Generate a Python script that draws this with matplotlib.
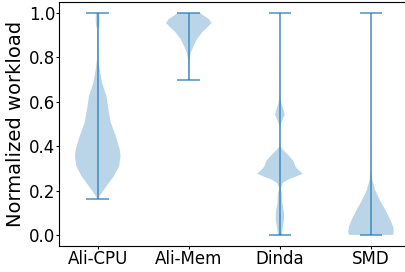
import numpy as np
import matplotlib
matplotlib.use('Agg')
import matplotlib.pyplot as plt

# categories on the x axis
categories = ['Ali-CPU', 'Ali-Mem', 'Dinda', 'SMD']

# density profile of each violin (workload value -> relative width)
cpu_coords = [0.163, 0.181, 0.219, 0.264, 0.309, 0.354, 0.385, 0.445, 0.507, 0.566, 0.626, 0.686, 0.746, 0.79, 0.86, 0.93, 0.94, 0.97, 0.995, 1.0]
cpu_vals = [0.3, 2.7, 8.7, 16.0, 21.3, 22.7, 22.0, 18.0, 13.0, 10.7, 8.7, 4.3, 2.0, 0.8, 0.6, 0.7, 1.5, 2.0, 1.8, 1.2]

mem_coords = [0.698, 0.75, 0.79, 0.822, 0.852, 0.882, 0.913, 0.935, 0.955, 0.973, 0.99, 1.0]
mem_vals = [0.4, 0.5, 0.7, 2.0, 4.7, 8.0, 13.0, 18.0, 22.3, 19.7, 14.0, 11.3]

dinda_coords = [0.0, 0.032, 0.068, 0.1, 0.145, 0.19, 0.211, 0.234, 0.249, 0.264, 0.276, 0.294, 0.309, 0.332, 0.354, 0.385, 0.40, 0.47, 0.497, 0.52, 0.543, 0.566, 0.596, 0.62, 0.7, 0.85, 1.0]
dinda_vals = [2.0, 2.7, 4.0, 4.0, 2.3, 1.8, 0.7, 2.7, 7.7, 16.0, 22.0, 17.7, 15.0, 13.3, 9.3, 2.7, 0.4, 0.3, 0.7, 2.7, 4.7, 3.3, 1.3, 0.5, 0.3, 0.2, 0.2]

smd_coords = [0.0, 0.015, 0.038, 0.068, 0.113, 0.158, 0.204, 0.249, 0.279, 0.35, 0.5, 0.7, 1.0]
smd_vals = [22.0, 22.7, 22.0, 19.3, 14.3, 8.7, 4.0, 1.3, 0.5, 0.25, 0.15, 0.1, 0.1]

all_coords = [cpu_coords, mem_coords, dinda_coords, smd_coords]
all_vals = [cpu_vals, mem_vals, dinda_vals, smd_vals]

# statistics in the form that ax.violin expects
vpstats = []
for coords, vals in zip(all_coords, all_vals):
    vpstats.append({
        'coords': np.array(coords),
        'vals': np.array(vals),
        'mean': np.mean(coords),
        'median': np.median(coords),
        'min': min(coords),
        'max': max(coords),
    })

fig = plt.figure(figsize=(4.06, 2.72), dpi=100)
ax = fig.add_axes([59 / 406, 26 / 272, 350.7 / 406, 244 / 272])

parts = ax.violin(vpstats, positions=[1, 2, 3, 4], widths=0.5,
                  showmeans=False, showextrema=True, showmedians=False)
# thinner, lighter lines like in the reference
for key in ['cbars', 'cmins', 'cmaxes']:
    parts[key].set_linewidth(1.1)
    parts[key].set_alpha(0.8)

ax.set_xticks([1, 2, 3, 4])
ax.set_xticklabels(categories, fontsize=12)
ax.set_yticks([0.0, 0.2, 0.4, 0.6, 0.8, 1.0])
ax.tick_params(axis='y', labelsize=12, length=2, pad=0.8)
ax.tick_params(axis='x', length=2, pad=1.2)
ax.set_ylabel('Normalized workload', fontsize=14, labelpad=3)

fig.savefig('out.png', dpi=100)
